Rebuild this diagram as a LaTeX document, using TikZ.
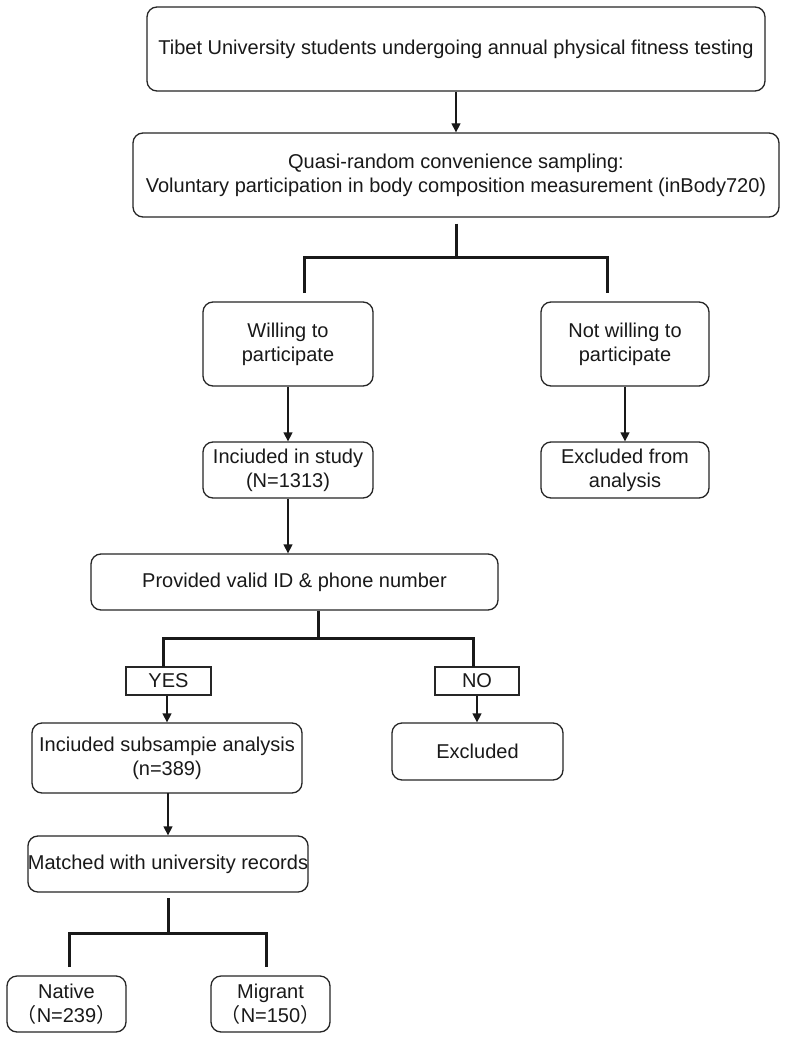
\documentclass[tikz,border=0pt]{standalone}
\usepackage{fontspec}
\setmainfont{Liberation Sans}
\newfontfamily\cjkfont{Noto Sans CJK SC}
\usetikzlibrary{arrows.meta,calc}
\begin{document}
\begin{tikzpicture}[x=1pt,y=-1pt,
  box/.style={draw=black!85, line width=1.3pt, rounded corners=10pt, align=center, inner sep=0pt,
              font=\fontsize{20}{24}\selectfont, text=black!90},
  tagbox/.style={draw=black!85, line width=1.3pt, inner sep=0pt, align=center,
              font=\fontsize{20}{24}\selectfont, text=black!90},
  arr/.style={line width=1.3pt, draw=black!90, -{Triangle[length=9pt,width=9pt]}},
  bus/.style={line width=3pt, draw=black!90}
]
\useasboundingbox[fill=white] (0,0) rectangle (786,1040);

% boxes
\node[box, minimum width=618pt, minimum height=84pt] (b1) at (456,49)
  {Tibet University students undergoing annual physical fitness testing};
\node[box, minimum width=646pt, minimum height=84pt] (b2) at (456,175)
  {Quasi-random convenience sampling:\\Voluntary participation in body composition measurement (inBody720)};
\node[box, minimum width=170pt, minimum height=84pt] (will) at (288,344)
  {Willing to\\participate};
\node[box, minimum width=168pt, minimum height=84pt] (notw) at (625,344)
  {Not willing to\\participate};
\node[box, minimum width=170pt, minimum height=56pt] (incl) at (288,470)
  {Inciuded in study\\(N=1313)};
\node[box, minimum width=168pt, minimum height=56pt] (exa) at (625,470)
  {Excluded from\\analysis};
\node[box, minimum width=407pt, minimum height=56pt] (prov) at (294.5,582)
  {Provided valid ID \& phone number};
\node[tagbox, minimum width=85pt, minimum height=28pt] (yes) at (168.5,681) {YES};
\node[tagbox, minimum width=84pt, minimum height=28pt] (no) at (477,681) {NO};
\node[box, minimum width=270pt, minimum height=70pt] (sub) at (167,758)
  {Inciuded subsampie analysis\\(n=389)};
\node[box, minimum width=171pt, minimum height=57pt] (exc) at (477.5,751.5)
  {Excluded};
\node[box, minimum width=280pt, minimum height=56pt] (match) at (168,864)
  {Matched with university records};
\node[box, minimum width=119pt, minimum height=56pt] (nat) at (66.5,1004)
  {Native\\{\cjkfont （}N=239{\cjkfont ）}};
\node[box, minimum width=119pt, minimum height=56pt] (mig) at (270.5,1004)
  {Migrant\\{\cjkfont （}N=150{\cjkfont ）}};

% arrows
\draw[arr] (b1.south) -- (b2.north);
\draw[arr] (will.south) -- (incl.north);
\draw[arr] (notw.south) -- (exa.north);
\draw[arr] (incl.south) -- (incl.south |- prov.north);
\draw[arr] (yes.south -| sub.north) -- (sub.north);
\draw[arr] (no.south) -- (no.south |- exc.north);
\draw[arr] (sub.south) -- (sub.south -| match.north) -- (match.north);

% bus connectors
\coordinate (j1) at (456,258);
\coordinate (l1) at (304,293);
\coordinate (r1) at (607,293);
\draw[bus] ($(b2.south)+(0,6)$) -- (j1);
\draw[bus] (l1) -- (l1 |- j1) -- (r1 |- j1) -- (r1);

\coordinate (j2) at (318,638);
\coordinate (l2) at (163,667);
\coordinate (r2) at (473,667);
\draw[bus] (j2 |- prov.south) -- (j2);
\draw[bus] (l2) -- (l2 |- j2) -- (r2 |- j2) -- (r2);

\coordinate (j3) at (168,933);
\coordinate (l3) at (69,967);
\coordinate (r3) at (266,967);
\draw[bus] (168,898) -- (j3);
\draw[bus] (l3) -- (l3 |- j3) -- (r3 |- j3) -- (r3);
\end{tikzpicture}
\end{document}
